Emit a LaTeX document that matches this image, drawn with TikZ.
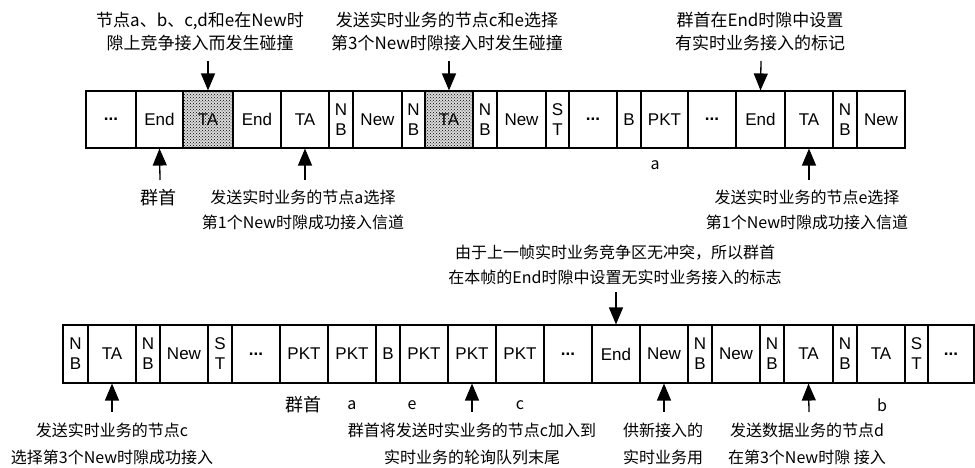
\documentclass[tikz,border=0pt]{standalone}
\usepackage{fontspec}
\setmainfont{Liberation Sans}
\newfontfamily\cjk{Noto Sans CJK SC}
\usetikzlibrary{arrows.meta,patterns}
\newcommand{\tdots}{\textbf{...}}
\begin{document}
\begin{tikzpicture}[x=1pt,y=-1pt,
  cell/.style={draw, line width=1.1pt, inner sep=0pt, align=center,
    font=\fontsize{17}{20}\selectfont, pattern=crosshatch dots},
  lab/.style={align=center, inner sep=0pt, font=\cjk\fontsize{16}{25}\selectfont},
  toplab/.style={lab, font=\cjk\fontsize{17}{23}\selectfont},
  botlab/.style={lab, font=\cjk\fontsize{16}{27}\selectfont},
  arr/.style={line width=1.3pt, -{Triangle[width=14pt,length=17pt]}}]
\useasboundingbox (0,0) rectangle (975,468);
% top row
\foreach \a/\b/\t/\p/\f [count=\i] in {
  86/136/\tdots/white/white, 136/183/End/white/white, 183/233/TA/black/black!15, 233/281/End/white/white,
  281/329/TA/white/white, 329/353/{N\\B}/white/white, 353/402/New/white/white, 402/425/{N\\B}/white/white,
  425/473/TA/black/black!15, 473/497/{N\\B}/white/white, 497/546/New/white/white, 546/569/{S\\T}/white/white,
  569/617/\tdots/white/white, 617/641/B/white/white, 641/688/PKT/white/white, 688/736/\tdots/white/white,
  736/785/End/white/white, 785/833/TA/white/white, 833/857/{N\\B}/white/white, 857/905/New/white/white}
  \node[cell, preaction={fill=\f}, pattern color=\p, minimum height=57pt, minimum width={(\b-\a)*1pt}]
    (t\i) at ({(\a+\b)/2},119.5) {\t};
% bottom row
\foreach \a/\b/\t [count=\i] in {
  63/88/{N\\B}, 88/136/TA, 136/160/{N\\B}, 160/208/New, 208/232/{S\\T},
  232/280/\tdots, 280/328/PKT, 328/376/PKT, 376/400/B, 400/448/PKT,
  448/496/PKT, 496/544/PKT, 544/592/\tdots, 592/640/End, 640/688/New,
  688/712/{N\\B}, 712/760/New, 760/784/{N\\B}, 784/833/TA, 833/857/{N\\B},
  857/905/TA, 905/928/{S\\T}, 928/974/\tdots}
  \node[cell, pattern color=white, minimum height=58pt, minimum width={(\b-\a)*1pt}]
    (b\i) at ({(\a+\b)/2},354) {\t};
% top labels
\node[toplab] (L1) at (200,31.5) {节点a、b、c,d和e在New时\\隙上竞争接入而发生碰撞};
\node[toplab] (L2) at (447,31.5) {发送实时业务的节点c和e选择\\第3个New时隙接入时发生碰撞};
\node[toplab] (L3) at (760,31.5) {群首在End时隙中设置\\有实时业务接入的标记};
\coordinate (s1) at (208,61);
\coordinate (s2) at (449,61);
\coordinate (s3) at (761,61);
\draw[arr] (s1) -- (t3.north);
\draw[arr] (s2) -- (t9.north);
\draw[arr] (s3) -- (t17.north);
% labels below top row
\node[lab, font=\cjk\fontsize{18}{22}\selectfont] (G1) at (158,198) {群首};
\node[lab] (L4) at (303,209.5) {发送实时业务的节点a选择\\第1个New时隙成功接入信道};
\node[lab] (L5) at (807,209.5) {发送实时业务的节点e选择\\第1个New时隙成功接入信道};
\node[lab] (Ta) at (655,165) {a};
\coordinate (s4) at (160,180);
\coordinate (s5) at (305,180);
\coordinate (s6) at (809,180);
\draw[arr] (s4) -- (t2.south);
\draw[arr] (s5) -- (t5.south);
\draw[arr] (s6) -- (t18.south);
% middle label
\node[lab] (L6) at (615,265) {由于上一帧实时业务竞争区无冲突，所以群首\\在本帧的End时隙中设置无实时业务接入的标志};
\coordinate (s7) at (616,292);
\draw[arr] (s7) -- (b14.north);
% labels below bottom row
\node[lab, font=\cjk\fontsize{18}{22}\selectfont] (G2) at (303,405) {群首};
\node[lab] (Ba) at (352,405) {a};
\node[lab] (Be) at (412,405) {e};
\node[lab] (Bc) at (520,405) {c};
\node[lab] (Bb) at (882,405) {b};
\node[botlab] (L7) at (112,443.5) {发送实时业务的节点c\\选择第3个New时隙成功接入};
\node[botlab] (L8) at (472,443.5) {群首将发送时实业务的节点c加入到\\实时业务的轮询队列末尾};
\node[botlab] (L9) at (663,443.5) {供新接入的\\实时业务用};
\node[botlab] (L10) at (807,443.5) {发送数据业务的节点d\\在第3个New时隙 接入};
\coordinate (s8) at (112,412);
\coordinate (s9) at (472,412);
\coordinate (s10) at (664,412);
\coordinate (s11) at (809,412);
\draw[arr] (s8) -- (b2.south);
\draw[arr] (s9) -- (b11.south);
\draw[arr] (s10) -- (b15.south);
\draw[arr] (s11) -- (b19.south);
\end{tikzpicture}
\end{document}
